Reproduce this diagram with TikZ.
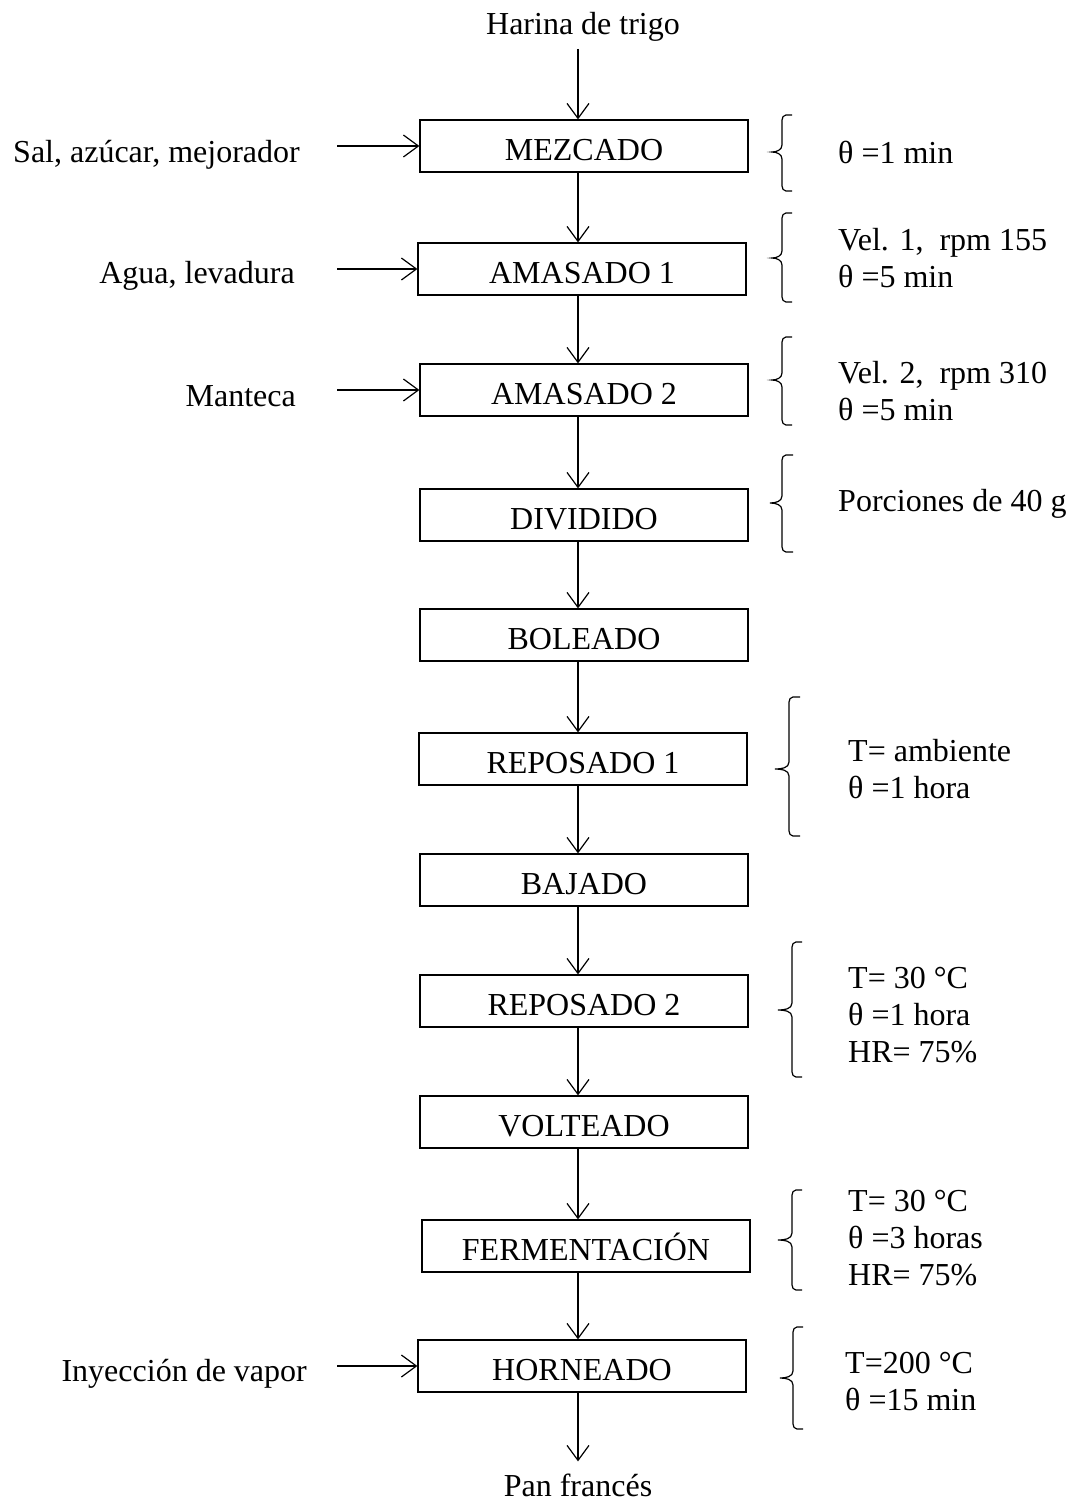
\documentclass[tikz,border=0pt]{standalone}
\usepackage{fontspec}
\setmainfont{Liberation Serif}
\usetikzlibrary{arrows.meta}
\begin{document}
\begin{tikzpicture}[x=1pt,y=-1pt,
  every node/.style={font=\fontsize{32}{37}\selectfont, inner sep=0pt},
  proc/.style={draw, line width=1.2pt, minimum width=328pt, minimum height=52pt, text height=29pt, text depth=0pt},
  arr/.style={line width=1.2pt, -{Straight Barb[length=15pt,width=22pt,line width=1.2pt]}},
  brc/.style={line width=1.2pt},
  note/.style={anchor=west, align=left},
  inlab/.style={anchor=east}
]
\useasboundingbox (0,0) rectangle (1072,1504);

% process boxes
\node[proc] (mez) at (584,146) {MEZCADO};
\node[proc] (am1) at (582,269) {AMASADO 1};
\node[proc] (am2) at (584,390) {AMASADO 2};
\node[proc] (div) at (584,515) {DIVIDIDO};
\node[proc] (bol) at (584,635) {BOLEADO};
\node[proc] (re1) at (583,759) {REPOSADO 1};
\node[proc] (baj) at (584,880) {BAJADO};
\node[proc] (re2) at (584,1001) {REPOSADO 2};
\node[proc] (vol) at (584,1122) {VOLTEADO};
\node[proc] (fer) at (586,1246) {FERMENTACIÓN};
\node[proc] (hor) at (582,1366) {HORNEADO};

% top input and final product
\node (har) at (583,27) {Harina de trigo};
\node (pan) at (578,1485) {Pan francés};

% vertical connectors
\draw[arr] ([xshift=-5pt,yshift=-7pt]har.south) -- ([xshift=-6pt]mez.north);
\draw[arr] ([xshift=-6pt]mez.south) -- ([xshift=-4pt]am1.north);
\draw[arr] ([xshift=-4pt]am1.south) -- ([xshift=-6pt]am2.north);
\draw[arr] ([xshift=-6pt]am2.south) -- ([xshift=-6pt]div.north);
\draw[arr] ([xshift=-6pt]div.south) -- ([xshift=-6pt]bol.north);
\draw[arr] ([xshift=-6pt]bol.south) -- ([xshift=-5pt]re1.north);
\draw[arr] ([xshift=-5pt]re1.south) -- ([xshift=-6pt]baj.north);
\draw[arr] ([xshift=-6pt]baj.south) -- ([xshift=-6pt]re2.north);
\draw[arr] ([xshift=-6pt]re2.south) -- ([xshift=-6pt]vol.north);
\draw[arr] ([xshift=-6pt]vol.south) -- ([xshift=-8pt]fer.north);
\draw[arr] ([xshift=-8pt]fer.south) -- ([xshift=-4pt]hor.north);
\draw[arr] ([xshift=-4pt]hor.south) -- ([yshift=12pt]pan.north);

% side inputs
\node[inlab] (l1) at (300,155) {Sal, azúcar, mejorador};
\node[inlab] (l2) at (295,276) {Agua, levadura};
\node[inlab] (l3) at (296,396) {Manteca};
\node[inlab] (l4) at (307,1374) {Inyección de vapor};
\coordinate (i1) at (337,146);
\coordinate (i2) at (337,269);
\coordinate (i3) at (337,390);
\coordinate (i4) at (337,1366);
\draw[arr] (i1) -- (mez.west);
\draw[arr] (i2) -- (am1.west);
\draw[arr] (i3) -- (am2.west);
\draw[arr] (i4) -- (hor.west);

% braces: #1 tip x, #2 vertical x, #3 hook end x, #4 top y, #5 mid y, #6 bottom y
\newcommand{\lbrc}[6]{%
  \draw[brc] (#3,#4) -- ({#2+4},#4) to[out=180,in=90] (#2,{#4+5})
    -- (#2,{#5-7}) to[out=-90,in=0] (#1,#5)
    to[out=0,in=90] (#2,{#5+7}) -- (#2,{#6-5})
    to[out=-90,in=180] ({#2+4},#6) -- (#3,#6);}
\lbrc{772}{782}{792}{115}{152}{191}
\lbrc{772}{782}{792}{213}{258}{302}
\lbrc{772}{782}{792}{337}{380}{425}
\lbrc{770}{782}{793}{455}{503}{552}
\lbrc{775}{789}{800}{697}{769}{836}
\lbrc{778}{792}{802}{942}{1010}{1077}
\lbrc{778}{792}{802}{1190}{1240}{1290}
\lbrc{780}{793}{803}{1327}{1378}{1429}

% notes
\node[note] (n1) at (838,152) {θ =1 min};
\node[note] (n2) at (838,258) {Vel. 1,\ \ rpm 155\\θ =5 min};
\node[note] (n3) at (838,391) {Vel. 2,\ \ rpm 310\\θ =5 min};
\node[note] (n4) at (838,504) {Porciones de 40 g};
\node[note] (n5) at (848,769) {T= ambiente\\θ =1 hora};
\node[note] (n6) at (848,1015) {T= 30 °C\\θ =1 hora\\HR= 75\%};
\node[note] (n7) at (848,1238) {T= 30 °C\\θ =3 horas\\HR= 75\%};
\node[note] (n8) at (845,1381) {T=200 °C\\θ =15 min};
\end{tikzpicture}
\end{document}
